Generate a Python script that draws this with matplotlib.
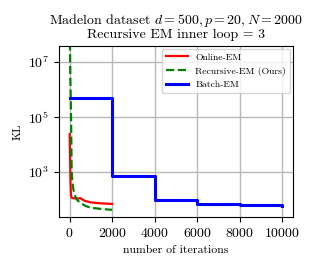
import numpy as np
import matplotlib
matplotlib.use("Agg")
import matplotlib.pyplot as plt

plt.rcParams['font.family'] = 'serif'
plt.rcParams['font.serif'] = ['cmr10']
plt.rcParams['mathtext.fontset'] = 'cm'
plt.rcParams['axes.formatter.use_mathtext'] = True

# Online-EM
online_t = [0, 20, 40, 60, 100, 200, 400, 500, 700, 1000, 1500, 2000]
online_kl = [2.4e4, 3000, 400, 140, 115, 110, 108, 112, 90, 78, 72, 69]

# Recursive-EM (Ours)
rec_t = [0, 15, 30, 50, 70, 95, 130, 180, 250, 330, 500, 750, 1000, 1500, 2000]
rec_kl = [1e9, 3e7, 3e6, 4.8e5, 5e4, 1e3, 400, 220, 140, 100, 75, 58, 50, 45, 42]

# Batch-EM
batch_t = [0, 2000, 4000, 6000, 8000, 10000]
batch_kl = [4.8e5, 690, 98, 69, 62, 56]

fig, ax = plt.subplots(figsize=(3.14, 2.71), dpi=100)

ax.plot(online_t, online_kl, color='red', lw=1.6, label='Online-EM')
ax.plot(rec_t, rec_kl, color='green', lw=1.6, linestyle='--', label='Recursive-EM (Ours)')
ax.plot(batch_t, batch_kl, color='blue', lw=2.2, drawstyle='steps-post', label='Batch-EM')

ax.set_yscale('log')
ax.set_ylim(10**1.36, 10**7.58)
ax.set_xlim(-500, 10500)
ax.set_xticks([0, 2000, 4000, 6000, 8000, 10000])
ax.set_yticks([1e3, 1e5, 1e7])
ax.minorticks_off()
ax.grid(True, color='#b8b8b8', lw=1)
ax.tick_params(labelsize=10)

ax.set_xlabel('number of iterations', fontsize=8.5)
ax.set_ylabel('KL', fontsize=8.5)
ax.set_title('Madelon dataset $d = 500, p = 20, N = 2000$\nRecursive EM inner loop = 3',
             fontsize=10, linespacing=0.95)
ax.legend(loc='upper right', fontsize=7, handlelength=2.2, borderaxespad=0.3)

fig.subplots_adjust(left=0.188, right=0.933, top=0.830, bottom=0.199)
fig.savefig('out.png', dpi=100)
